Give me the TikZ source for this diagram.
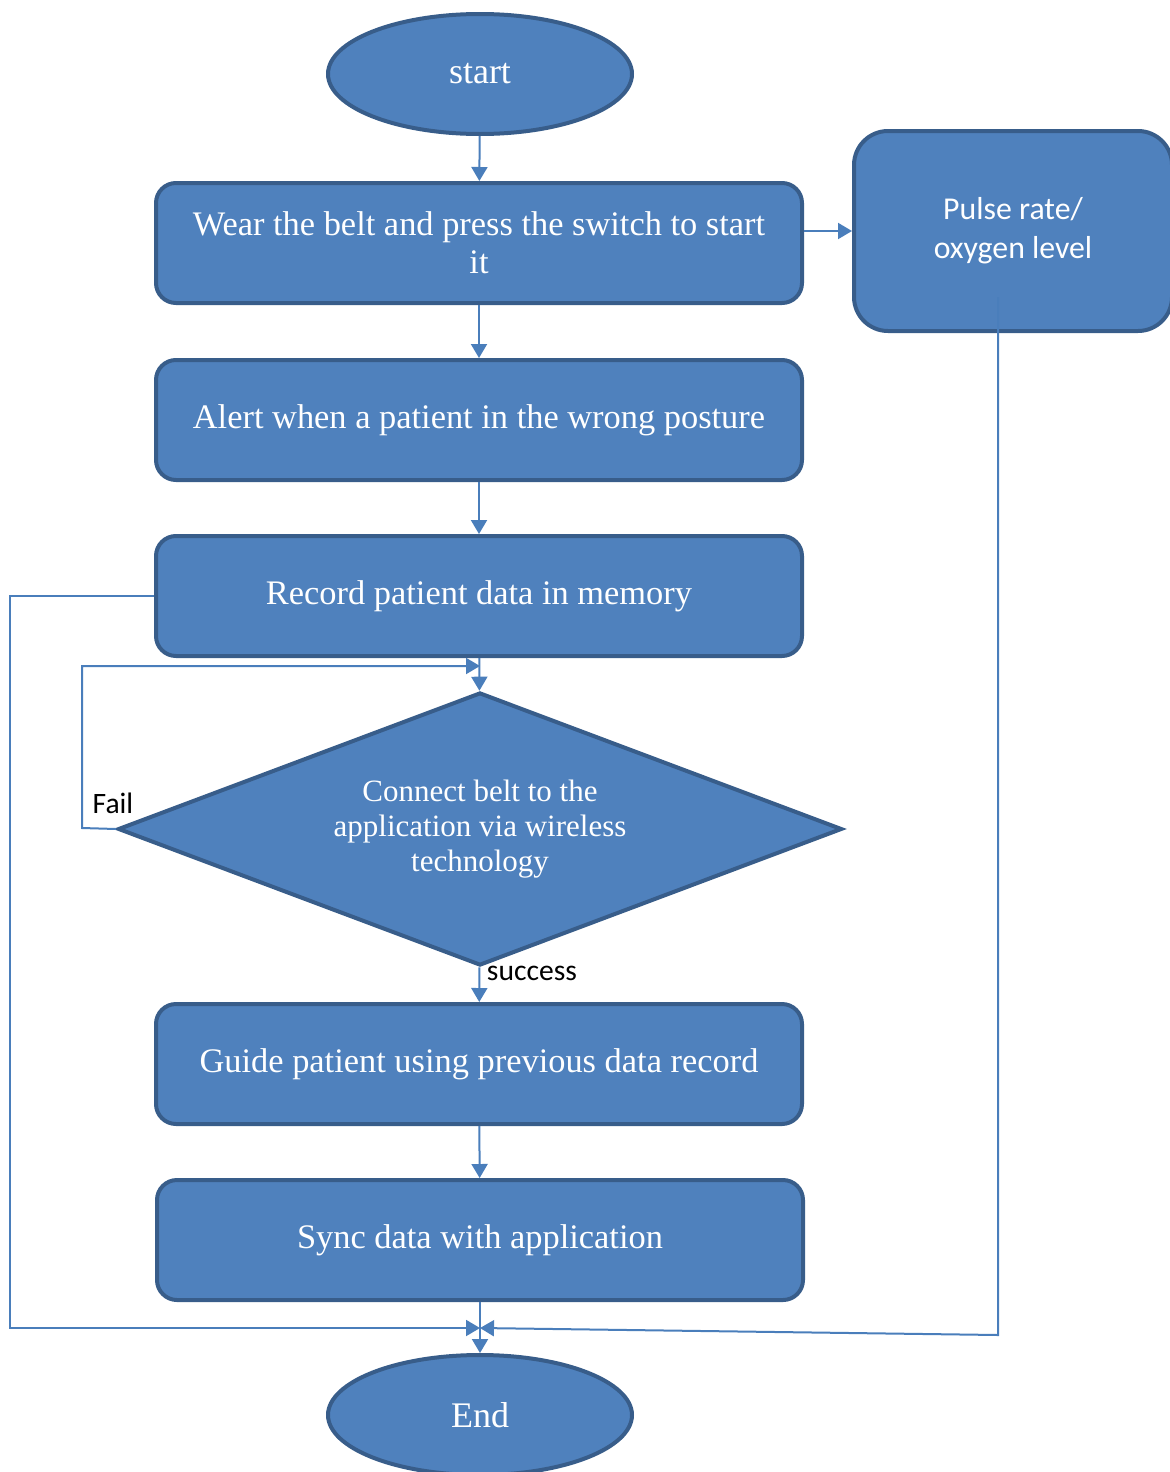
\documentclass[tikz,border=0pt]{standalone}
\usepackage{fontspec}
\setmainfont{Liberation Serif}
\newfontfamily\calib{Carlito}
\usetikzlibrary{shapes.geometric,arrows.meta}
\definecolor{boxfill}{HTML}{4F81BD}
\definecolor{boxline}{HTML}{385D8A}
\definecolor{linkcol}{HTML}{4A7EBB}
\tikzset{
  flowbox/.style={draw=boxline, line width=2pt, fill=boxfill, rounded corners=10pt,
    text=white, align=center, minimum width=323pt, minimum height=60pt,
    font=\fontsize{17.2}{19}\selectfont},
  term/.style={ellipse, draw=boxline, line width=2pt, fill=boxfill, text=white,
    minimum width=152pt, minimum height=60pt, inner sep=0pt,
    font=\fontsize{18}{19}\selectfont},
  decide/.style={diamond, draw=boxline, line width=2pt, fill=boxfill, text=white,
    align=center, aspect=2.65, inner sep=0pt, minimum width=362pt,
    minimum height=136.5pt, font=\fontsize{15.5}{17.5}\selectfont},
  link/.style={draw=linkcol, line width=1pt},
  arr/.style={link, -{Triangle[length=7pt,width=8pt]}},
  tag/.style={font=\calib\fontsize{14.8}{16}\selectfont, text=black}
}
\begin{document}
\begin{tikzpicture}[x=0.5pt, y=-0.5pt]
\useasboundingbox (0,0) rectangle (1169,1472);
        \node[term] (start) at (480, 74) {start};
        \node[flowbox] (wear) at (479, 243) {Wear the belt and press the switch to start\\it};
        \node[flowbox, rounded corners=17pt, minimum width=159pt, minimum height=100pt,
              font=\calib\fontsize{15.9}{19.5}\selectfont] (pulse) at (1013, 231)
              {\raisebox{-2pt}{Pulse rate/}\\\raisebox{-2pt}{oxygen level}};
        \node[flowbox] (alert) at (479, 420) {Alert when a patient in the wrong posture};
        \node[flowbox] (record) at (479, 596) {Record patient data in memory};
        \node[decide] (connect) at (480, 829) {Connect belt to the\\application via wireless\\technology};
        \node[flowbox] (guide) at (479, 1064) {Guide patient using previous data record};
        \node[flowbox] (sync) at (480, 1240) {Sync data with application};
        \node[term] (end) at (480, 1415) {End};
        \node[tag] (fail) at (113, 803) {Fail};
        \node[tag] (success) at (532, 973) {success};
        % corner points of the side lines
        \coordinate (failcorner) at (82, 828);
        \coordinate (failtop) at (82, 666);
        \coordinate (failin) at (480, 666);
        \coordinate (leftcorner) at (10, 596);
        \coordinate (leftbottom) at (10, 1328);
        \coordinate (mergein) at (480, 1328);
        \coordinate (pulsetap) at (998, 297);
        \coordinate (pulsebottom) at (998, 1335);
        \draw[arr] (start) -- (wear);
        \draw[arr] (wear.east |- pulse.west) -- (pulse.west);
        \draw[arr] (wear) -- (alert);
        \draw[arr] (alert) -- (record);
        \draw[arr] (record) -- (connect);
        \draw[arr] (connect.west) -- (failcorner) -- (failtop) -- (failin);
        \draw[arr] (connect) -- (guide);
        \draw[arr] (guide) -- (sync);
        \draw[arr] (sync) -- (end);
        \draw[arr] (record.west) -- (leftcorner) -- (leftbottom) -- (mergein);
        \draw[arr] (pulsetap) -- (pulsebottom) -- (mergein);
\end{tikzpicture}
\end{document}
